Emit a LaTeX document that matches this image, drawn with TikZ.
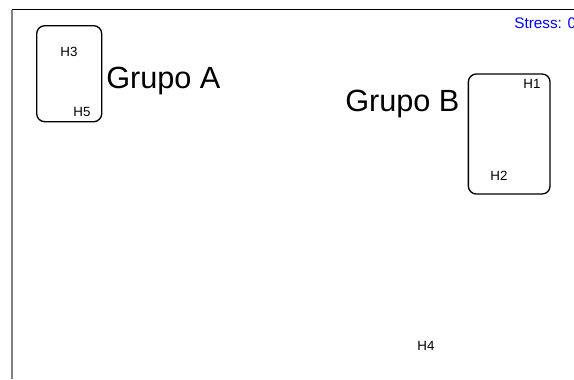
\documentclass[tikz,border=0pt]{standalone}
\usepackage{fontspec}
\setmainfont{Liberation Sans}
\usetikzlibrary{positioning}

\begin{document}
\begin{tikzpicture}[x=0.75pt,y=-0.75pt]
	\tikzstyle{grupo}=[draw,rounded corners=6pt,line width=1pt,inner sep=0pt]
	\tikzstyle{hoja}=[font=\fontsize{10}{11}\selectfont,inner sep=0pt]
	\tikzstyle{nombre}=[font=\fontsize{23}{26}\selectfont,inner sep=0pt,anchor=base west]

	\useasboundingbox (0,0) rectangle (574,379);

	% ejes del marco
	\coordinate (O) at (12,9.5);
	\coordinate (Y) at (12,379);
	\coordinate (X) at (574,9.5);
	\draw[black!50,line width=1.5pt] (O) -- (Y);
	\draw[line width=0.8pt] (O) -- (X);

	% grupos
	\node[grupo,minimum width=48.75pt,minimum height=72pt] (A) at (69.2,73.7) {};
	\node[grupo,minimum width=61.3pt,minimum height=90pt] (B) at (509.2,134) {};

	\node[hoja] (H3) at (69,52) {H3};
	\node[hoja] (H5) at (82,112) {H5};
	\node[hoja] (H1) at (532,84) {H1};
	\node[hoja] (H2) at (499,176) {H2};
	\node[hoja] (H4) at (426,346) {H4};

	\node[nombre] (nA) at (106,88) {Grupo A};
	\node[nombre] (nB) at (345,111.7) {Grupo B};

	\node[font=\fontsize{11.5}{13}\selectfont,text=blue,inner sep=0pt,anchor=base west] (stress) at (514,28.3) {Stress: 0};
\end{tikzpicture}
\end{document}
